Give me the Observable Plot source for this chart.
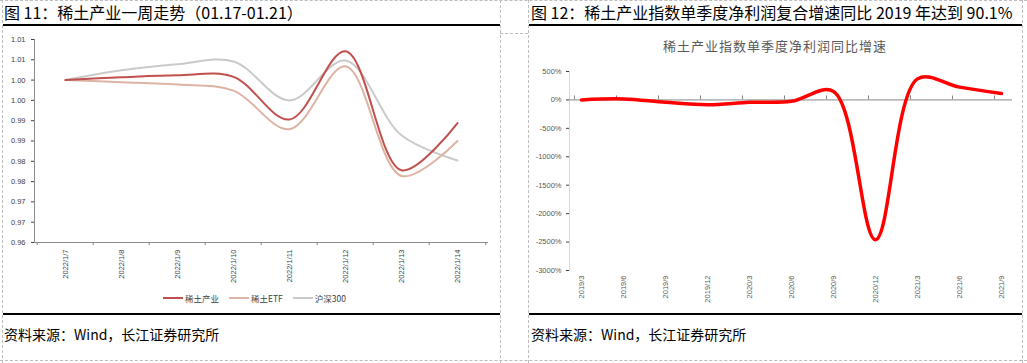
<!DOCTYPE html>
<html><head><meta charset="utf-8">
<script src="https://cdn.jsdelivr.net/npm/d3@7"></script>
<script src="https://cdn.jsdelivr.net/npm/@observablehq/plot@0.6"></script>
<style>
body{margin:0;background:#fff;font-family:"Noto Sans CJK SC","Noto Sans",sans-serif;}
#root{position:relative;width:1027px;height:363px;overflow:hidden;background:#fff;}
.abs{position:absolute;}
.vd{position:absolute;width:0;border-left:1px dashed #bdbdbd;}
.hd{position:absolute;height:0;border-top:1px dashed #bdbdbd;}
.hl{position:absolute;height:0;border-top:2px solid #000;}
.title{position:absolute;font-size:16px;color:#000;white-space:nowrap;line-height:1;}
.src{position:absolute;font-size:14px;color:#000;white-space:nowrap;line-height:1;}
.legend{position:absolute;display:flex;align-items:center;font-size:8.5px;color:#404040;white-space:nowrap;}
.legend span.sw{display:inline-block;width:20px;height:2px;margin-right:2px;}
.legend span.it{display:inline-flex;align-items:center;margin-right:10px;}
</style></head><body><div id="root"></div>
<script>
// ---------- Data: left chart (figure 11) ----------
const dates = ["2022/1/7","2022/1/8","2022/1/9","2022/1/10","2022/1/11","2022/1/12","2022/1/13","2022/1/14"];
const rareEarthIndustry = [1.000, 1.0007, 1.0012, 1.0008, 0.9903, 1.0071, 0.9778, 0.9894];
const rareEarthETF      = [1.000, 0.9995, 0.9989, 0.9974, 0.9879, 1.0034, 0.9764, 0.9850];
const hs300             = [1.000, 1.0024, 1.0039, 1.0046, 0.9950, 1.0048, 0.9864, 0.9802];
const seriesNames = ["稀土产业", "稀土ETF", "沪深300"];
const seriesColors = ["#C0504D", "#DDB3A3", "#CACACA"];
const leftYTicks  = [0.96, 0.965, 0.97, 0.975, 0.98, 0.985, 0.99, 0.995, 1.0, 1.005, 1.01];
const leftYLabels = ["0.96","0.97","0.97","0.98","0.98","0.99","0.99","1.00","1.00","1.01","1.01"];

// ---------- Data: right chart (figure 12) ----------
const quarters = ["2019/3","2019/6","2019/9","2019/12","2020/3","2020/6","2020/9","2020/12","2021/3","2021/6","2021/9"];
const profitGrowth = [0, 17, -42, -83, -42, -25, 150, -2460, 370, 225, 113]; // percent
const rightYTicks  = [-3000, -2500, -2000, -1500, -1000, -500, 0, 500];
const rightYLabels = ["-3000%","-2500%","-2000%","-1500%","-1000%","-500%","0%","500%"];

const titleLeft = "图 11：稀土产业一周走势（01.17-01.21）";
const titleRight = "图 12：稀土产业指数单季度净利润复合增速同比 2019 年达到 90.1%";
const innerTitleRight = "稀土产业指数单季度净利润同比增速";
const sourceText = "资料来源：Wind，长江证券研究所";

const root = document.getElementById("root");
function add(cls, css, text) {
  const el = document.createElement("div");
  el.className = cls;
  Object.assign(el.style, css);
  if (text != null) el.textContent = text;
  root.appendChild(el);
  return el;
}

// frame decorations
add("hd", {left:"0px", top:"0px", width:"1027px"});
add("hd", {left:"0px", top:"360px", width:"1027px"});
add("vd", {left:"2px", top:"0px", height:"363px"});
add("vd", {left:"500px", top:"0px", height:"363px"});
add("vd", {left:"528px", top:"0px", height:"363px"});
add("vd", {left:"1022px", top:"0px", height:"363px"});
add("hd", {left:"500px", top:"33px", width:"28px"});
add("hl", {left:"3px", top:"24px", width:"497px"});
add("hl", {left:"529px", top:"24px", width:"493px"});
add("hl", {left:"3px", top:"313px", width:"497px"});
add("hl", {left:"529px", top:"313px", width:"493px"});

add("title", {left:"4px", top:"4px"}, titleLeft);
add("title", {left:"531px", top:"4px"}, titleRight);
add("src", {left:"4px", top:"327px"}, sourceText);
add("src", {left:"531px", top:"327px"}, sourceText);

// ---------- Left chart ----------
const leftRows = [];
[rareEarthIndustry, rareEarthETF, hs300].forEach((arr, s) => {
  arr.forEach((v, i) => leftRows.push({date: dates[i], series: seriesNames[s], value: v}));
});
const leftLabelMap = new Map(leftYTicks.map((t, i) => [t, leftYLabels[i]]));

const left = Plot.plot({
  width: 500, height: 289,
  marginLeft: 34, marginRight: 13, marginTop: 14, marginBottom: 72,
  x: {type: "point", domain: dates, padding: 0.5},
  y: {domain: [0.96, 1.01]},
  color: {domain: seriesNames, range: seriesColors},
  style: {fontFamily: "Liberation Sans, Arial, sans-serif", fontSize: "7.5px", color: "#404040", background: "transparent", overflow: "visible"},
  marks: [
    Plot.axisY({ticks: leftYTicks, tickFormat: d => leftLabelMap.get(d), tickSize: 3, tickPadding: 6, label: null, stroke: "#404040"}),
    Plot.axisX({tickSize: 0, tickRotate: -90, tickPadding: 7, label: null}),
    Plot.axisX({tickSize: 3, tickFormat: () => "", dx: -28.3, label: null, stroke: "#808080"}),
    Plot.axisX({ticks: [dates[dates.length - 1]], tickSize: 3, tickFormat: () => "", dx: 28.3, label: null, stroke: "#808080"}),
    Plot.frame({anchor: "left", stroke: "#8c8c8c"}),
    Plot.frame({anchor: "bottom", stroke: "#8c8c8c"}),
    Plot.line(leftRows.filter(d => d.series === seriesNames[2]), {x: "date", y: "value", stroke: "series", strokeWidth: 2, curve: "catmull-rom"}),
    Plot.line(leftRows.filter(d => d.series === seriesNames[1]), {x: "date", y: "value", stroke: "series", strokeWidth: 2, curve: "catmull-rom"}),
    Plot.line(leftRows.filter(d => d.series === seriesNames[0]), {x: "date", y: "value", stroke: "series", strokeWidth: 2, curve: "catmull-rom"})
  ]
});
left.style.position = "absolute";
left.style.left = "0px";
left.style.top = "25px";
root.appendChild(left);

// legend
const lg = add("legend", {left:"163px", top:"292px"});
seriesNames.forEach((n, i) => {
  const it = document.createElement("span");
  it.className = "it";
  const sw = document.createElement("span");
  sw.className = "sw";
  sw.style.background = seriesColors[i];
  it.appendChild(sw);
  it.appendChild(document.createTextNode(n));
  lg.appendChild(it);
});

// ---------- Right chart ----------
const rightRows = quarters.map((q, i) => ({quarter: q, value: profitGrowth[i]}));
const rightLabelMap = new Map(rightYTicks.map((t, i) => [t, rightYLabels[i]]));

add("abs", {left:"528px", top:"39px", width:"494px", textAlign:"center", fontSize:"13px", letterSpacing:"1px", color:"#595959", lineHeight:"1", whiteSpace:"nowrap"}, innerTitleRight);

const right = Plot.plot({
  width: 494, height: 289,
  marginLeft: 41, marginRight: 10, marginTop: 46, marginBottom: 44,
  x: {type: "point", domain: quarters, padding: 0.163},
  y: {domain: [-3000, 500]},
  style: {fontFamily: "Liberation Sans, Arial, sans-serif", fontSize: "7.5px", color: "#595959", background: "transparent", overflow: "visible"},
  marks: [
    Plot.frame({anchor: "left", stroke: "#d9d9d9"}),
    Plot.axisY({ticks: rightYTicks, tickFormat: d => rightLabelMap.get(d), tickSize: 3, tickPadding: 5, label: null, stroke: "#404040"}),
    Plot.axisX({tickSize: 0, tickRotate: -90, tickPadding: 5, label: null}),
    Plot.ruleY([0], {stroke: "#868686", strokeWidth: 1}),
    Plot.ruleX(quarters, {x: d => d, y1: 0, y2: 70, dx: -7, stroke: "#868686"}),
    Plot.line(rightRows, {x: "quarter", y: "value", stroke: "#FF0000", strokeWidth: 3.5, curve: "catmull-rom"})
  ]
});
right.style.position = "absolute";
right.style.left = "528px";
right.style.top = "25px";
root.appendChild(right);
</script>
</body></html>
